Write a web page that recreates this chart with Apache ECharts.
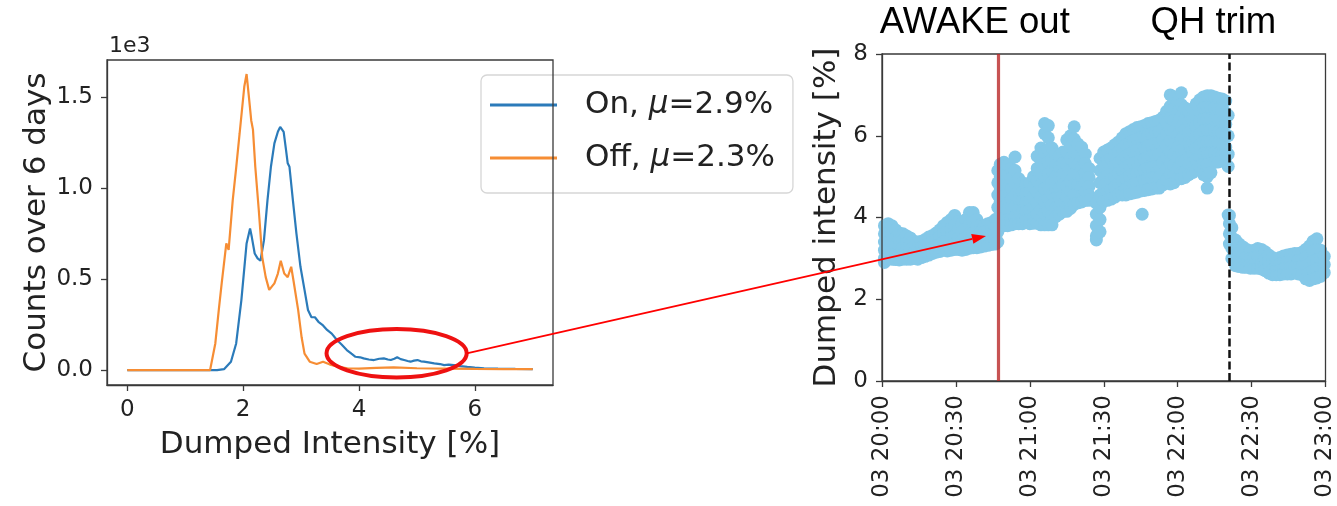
<!DOCTYPE html>
<html>
<head>
<meta charset="utf-8">
<script src="https://cdn.jsdelivr.net/npm/echarts@6/dist/echarts.min.js"></script>
<style>
  html, body { margin: 0; padding: 0; background: #fff; }
  #chart { width: 1337px; height: 506px; }
</style>
</head>
<body>
<div id="chart"></div>
<script>
// ---- Histogram of dumped intensity (counts over 6 days) ----
const onX = [0, 1.55, 1.67, 1.79, 1.88, 1.97, 2.06, 2.12, 2.15, 2.20, 2.25, 2.30, 2.36, 2.42, 2.48, 2.54,
  2.60, 2.64, 2.70, 2.74, 2.77, 2.80, 2.86, 2.92, 2.99, 3.06, 3.12, 3.18, 3.24, 3.30, 3.38, 3.45, 3.53,
  3.62, 3.70, 3.79, 3.87, 3.94, 4.02, 4.08, 4.17, 4.26, 4.35, 4.43, 4.50, 4.55, 4.61, 4.66, 4.72, 4.78,
  4.84, 4.89, 4.95, 5.01, 5.07, 5.12, 5.20, 5.30, 5.40, 5.47, 5.55, 5.64, 5.75, 5.87, 6.0, 6.16, 6.4, 6.7, 7.0];
const onCounts = [0, 0, 5, 46, 146, 384, 695, 777, 730, 640, 613, 600, 713, 930, 1116, 1244,
  1308, 1335, 1308, 1210, 1135, 1116, 930, 750, 567, 440, 330, 290, 290, 265, 245, 220, 200,
  165, 140, 110, 90, 73, 70, 64, 58, 55, 62, 64, 58, 55, 62, 70, 60, 55,
  50, 46, 52, 55, 48, 46, 42, 37, 33, 27, 30, 27, 22, 18, 14, 10, 8, 6, 5];
const offX = [0, 1.43, 1.52, 1.58, 1.63, 1.71, 1.75, 1.82, 1.88, 1.94, 2.02, 2.06, 2.10, 2.14, 2.17, 2.21,
  2.27, 2.33, 2.39, 2.45, 2.48, 2.54, 2.60, 2.65, 2.71, 2.77, 2.83, 2.87, 2.95, 3.01, 3.06, 3.15, 3.27,
  3.38, 3.5, 3.65, 3.8, 4.0, 4.3, 4.6, 5.0, 5.5, 6.0, 6.5, 7.0];
const offCounts = [0, 0, 146, 330, 476, 695, 660, 930, 1110, 1300, 1555, 1625, 1500, 1370, 1320, 1116,
  880, 620, 510, 440, 430, 476, 530, 600, 530, 510, 567, 490, 330, 180, 90, 46, 33,
  46, 30, 18, 10, 8, 12, 15, 10, 8, 6, 5, 5];
const seriesNames = ['On, μ=2.9%', 'Off, μ=2.3%'];
const histTicks = [0, 2, 4, 6];
const countTicks = [0, 500, 1000, 1500];

// ---- Dumped intensity vs time: each row is [minutes after 20:00, readings...] ----
const scatterRows = [
  [1, 3.8, 3.6, 3.4, 3.2, 3.0, 2.9],
  [2.5, 3.85, 3.62, 3.4, 3.2, 3.0],
  [4, 3.8, 3.58, 3.36, 3.16, 2.98],
  [5.5, 3.7, 3.5, 3.3, 3.12, 2.97],
  [7, 3.62, 3.45, 3.28, 3.1, 2.96],
  [8.5, 3.6, 3.44, 3.27, 3.1, 2.98],
  [10, 3.55, 3.38, 3.22, 3.07, 2.98],
  [11.5, 3.5, 3.35, 3.2, 3.05, 2.98],
  [13, 3.42, 3.28, 3.14, 3.0],
  [14.5, 3.4, 3.25, 3.1, 2.98],
  [16, 3.42, 3.28, 3.14, 3.02],
  [17.5, 3.46, 3.3, 3.16, 3.05],
  [19, 3.52, 3.36, 3.21, 3.08],
  [20.5, 3.56, 3.4, 3.25, 3.12],
  [22, 3.62, 3.45, 3.3, 3.15],
  [23.5, 3.7, 3.52, 3.34, 3.17],
  [25, 3.8, 3.6, 3.4, 3.2],
  [26.5, 3.88, 3.66, 3.45, 3.25, 3.18],
  [28, 3.95, 3.72, 3.5, 3.3, 3.2],
  [29.5, 4.05, 3.8, 3.55, 3.35, 3.22],
  [31, 3.9, 3.7, 3.5, 3.32, 3.22],
  [32.5, 3.85, 3.65, 3.45, 3.3, 3.2],
  [34, 3.95, 3.72, 3.5, 3.35, 3.22],
  [35.5, 4.12, 3.85, 3.6, 3.4, 3.25],
  [37, 4.12, 3.88, 3.62, 3.42, 3.26],
  [38.5, 3.95, 3.75, 3.55, 3.38, 3.26],
  [40, 3.82, 3.65, 3.5, 3.36, 3.28],
  [41.5, 3.8, 3.64, 3.5, 3.38, 3.3],
  [43, 3.85, 3.68, 3.52, 3.4, 3.32],
  [44.5, 3.88, 3.7, 3.55, 3.42, 3.34],
  [46, 3.95, 3.75, 3.58, 3.44, 3.35],
  [47, 5.15, 4.85, 4.55, 4.25, 3.95, 3.65, 3.4],
  [48, 5.3, 5.0, 4.7, 4.4, 4.1, 3.85],
  [49.5, 5.35, 5.08, 4.8, 4.52, 4.25, 3.98, 3.8],
  [51, 5.28, 5.0, 4.72, 4.45, 4.2, 3.95, 3.8],
  [52.5, 5.2, 4.95, 4.7, 4.45, 4.2, 3.98, 3.82],
  [54, 5.48, 5.15, 4.85, 4.55, 4.28, 4.02, 3.85],
  [55.5, 4.95, 4.7, 4.45, 4.2, 3.98, 3.85],
  [57, 4.85, 4.62, 4.4, 4.17, 3.95, 3.85],
  [58.5, 4.8, 4.58, 4.36, 4.14, 3.93],
  [60, 4.85, 4.62, 4.4, 4.17, 3.95, 3.85],
  [61.5, 5.0, 4.75, 4.5, 4.25, 4.0, 3.86],
  [63, 5.5, 5.2, 4.9, 4.62, 4.35, 4.08, 3.86],
  [64.5, 5.7, 5.4, 5.1, 4.8, 4.5, 4.2, 3.95, 3.82],
  [66, 6.3, 6.05, 5.6, 5.3, 5.0, 4.7, 4.4, 4.1, 3.82],
  [67.5, 6.25, 5.95, 5.65, 5.35, 5.05, 4.75, 4.45, 4.15, 3.82],
  [69, 5.7, 5.42, 5.14, 4.86, 4.58, 4.3, 4.05, 3.82],
  [70.5, 5.55, 5.28, 5.0, 4.74, 4.48, 4.24, 4.02],
  [72, 5.5, 5.24, 4.98, 4.72, 4.48, 4.25, 4.08],
  [73.5, 5.6, 5.32, 5.05, 4.8, 4.55, 4.32, 4.15],
  [75, 5.9, 5.6, 5.3, 5.02, 4.76, 4.5, 4.25, 4.15],
  [76.5, 6.0, 5.72, 5.44, 5.16, 4.9, 4.64, 4.4, 4.22],
  [78, 6.22, 5.92, 5.62, 5.34, 5.06, 4.8, 4.55, 4.32],
  [79.5, 5.8, 5.55, 5.3, 5.05, 4.8, 4.56, 4.36],
  [81, 5.72, 5.48, 5.24, 5.0, 4.76, 4.54, 4.38],
  [82.5, 5.55, 5.32, 5.08, 4.85, 4.62, 4.42],
  [84, 5.2, 4.98, 4.76, 4.55, 4.42],
  [87, 4.35, 4.08, 3.8, 3.55, 3.45],
  [88.5, 5.45, 5.15, 4.85, 4.55, 4.25, 3.95, 3.65],
  [90, 5.6, 5.32, 5.04, 4.78, 4.55, 4.4],
  [91.5, 5.65, 5.38, 5.1, 4.85, 4.62, 4.42],
  [93, 5.7, 5.44, 5.18, 4.92, 4.68, 4.45],
  [94.5, 5.78, 5.52, 5.26, 5.0, 4.75, 4.5],
  [96, 5.85, 5.6, 5.34, 5.08, 4.82, 4.56],
  [97.5, 5.95, 5.68, 5.42, 5.16, 4.9, 4.62, 4.55],
  [99, 6.05, 5.78, 5.5, 5.22, 4.96, 4.7, 4.55],
  [100.5, 6.1, 5.82, 5.55, 5.28, 5.02, 4.76, 4.58],
  [102, 6.15, 5.88, 5.6, 5.33, 5.06, 4.8, 4.6],
  [103.5, 6.2, 5.92, 5.64, 5.36, 5.1, 4.84, 4.62],
  [105, 6.22, 5.95, 5.68, 5.4, 5.13, 4.87, 4.65],
  [105.6, 4.08],
  [106.5, 6.25, 5.98, 5.7, 5.43, 5.16, 4.9, 4.66],
  [108, 6.3, 6.02, 5.75, 5.48, 5.2, 4.94, 4.68],
  [109.5, 6.32, 6.05, 5.78, 5.5, 5.22, 4.96, 4.7],
  [111, 6.35, 6.08, 5.8, 5.52, 5.25, 4.98, 4.72],
  [112.5, 6.38, 6.1, 5.82, 5.54, 5.26, 4.98, 4.72],
  [114, 6.45, 6.18, 5.9, 5.62, 5.34, 5.06, 4.8],
  [115.5, 6.6, 6.32, 6.04, 5.76, 5.48, 5.2, 4.92],
  [117, 7.0, 6.72, 6.44, 6.16, 5.88, 5.6, 5.32, 5.05, 4.82],
  [118.5, 6.95, 6.66, 6.38, 6.1, 5.82, 5.55, 5.28, 5.0, 4.85],
  [120, 6.82, 6.55, 6.28, 6.0, 5.72, 5.45, 5.18, 4.95],
  [121.5, 7.05, 6.76, 6.48, 6.2, 5.92, 5.64, 5.36, 5.1, 4.95],
  [123, 6.68, 6.42, 6.16, 5.9, 5.64, 5.38, 5.12, 4.98],
  [124.5, 6.6, 6.34, 6.08, 5.82, 5.56, 5.3, 5.05],
  [126, 6.65, 6.38, 6.12, 5.86, 5.6, 5.34, 5.1],
  [127.5, 6.78, 6.5, 6.22, 5.95, 5.68, 5.42, 5.16],
  [129, 6.88, 6.6, 6.32, 6.04, 5.76, 5.5, 5.25],
  [130.5, 6.95, 6.68, 6.4, 6.12, 5.84, 5.56, 5.3, 5.05],
  [132, 6.98, 6.7, 6.42, 6.14, 5.86, 5.58, 5.3, 5.0, 4.72],
  [133.5, 6.98, 6.7, 6.42, 6.14, 5.86, 5.58, 5.32, 5.1],
  [135, 6.95, 6.68, 6.4, 6.12, 5.84, 5.58, 5.35],
  [136.5, 6.92, 6.65, 6.38, 6.1, 5.82, 5.56, 5.36],
  [138, 6.9, 6.62, 6.34, 6.06, 5.8, 5.54, 5.38],
  [139.5, 6.85, 6.56, 6.28, 6.0, 5.72, 5.46],
  [140.5, 6.5, 6.0, 5.55, 5.25, 4.06],
  [141, 4.05, 3.85, 3.6, 3.35],
  [142, 3.75, 3.5, 3.25, 3.0],
  [143.5, 3.45, 3.22, 3.0, 2.82],
  [145, 3.35, 3.14, 2.95, 2.8],
  [146.5, 3.28, 3.08, 2.9, 2.78],
  [148, 3.22, 3.04, 2.88, 2.78],
  [149.5, 3.18, 3.0, 2.85, 2.76],
  [151, 3.2, 3.02, 2.86, 2.76],
  [152.5, 3.24, 3.05, 2.88, 2.76],
  [154, 3.22, 3.04, 2.86, 2.74],
  [155.5, 3.16, 2.98, 2.82, 2.7],
  [157, 3.08, 2.92, 2.76, 2.64],
  [158.5, 3.02, 2.86, 2.72, 2.6],
  [160, 2.98, 2.84, 2.7, 2.6],
  [161.5, 3.02, 2.86, 2.72, 2.6],
  [163, 3.06, 2.9, 2.74, 2.62],
  [164.5, 3.08, 2.92, 2.76, 2.62],
  [166, 3.1, 2.94, 2.78, 2.62],
  [167.5, 3.12, 2.96, 2.8, 2.64],
  [169, 3.12, 2.96, 2.8, 2.62],
  [170.5, 3.15, 2.98, 2.8, 2.6],
  [172, 3.22, 3.02, 2.82, 2.6, 2.5],
  [173.5, 3.3, 3.08, 2.86, 2.64, 2.46],
  [175, 3.42, 3.18, 2.94, 2.7, 2.5],
  [176.5, 3.48, 3.22, 2.96, 2.72, 2.52],
  [178, 3.2, 2.98, 2.76, 2.56],
  [179.5, 3.05, 2.85, 2.65]
];
const timeDay = '03';
const awakeOutMinute = 47;   // 20:47
const qhTrimMinute = 141;    // 22:21
const eventLabels = ['AWAKE out', 'QH trim'];

// ---- build ----
const FONT = 'DejaVu Sans';
const INK = '#222';
const SPINE = '#3a3a3a';

const toPairs = (xs, ys) => xs.map((x, i) => [x, ys[i]]);
const scatterData = [];
scatterRows.forEach(row => {
  for (let i = 1; i < row.length; i++) scatterData.push([row[0], row[i]]);
});
const clock = m => {
  const h = 20 + Math.floor(m / 60), mm = m % 60;
  return timeDay + ' ' + h + ':' + (mm < 10 ? '0' : '') + mm;
};
const richName = name => {
  const [a, b] = name.split('μ');
  return '{t|' + a + '}{m|μ}{t|' + b + '}';
};

const axisCommon = {
  axisLine: { show: true, onZero: false, lineStyle: { color: SPINE, width: 1.3 } },
  axisTick: { show: true, inside: false, length: 6, lineStyle: { color: SPINE, width: 1.3 } },
  axisLabel: { color: INK, fontFamily: FONT, fontSize: 23, margin: 14 },
  splitLine: { show: false },
  nameTextStyle: { color: INK, fontFamily: FONT, fontSize: 31 }
};

const chart = echarts.init(document.getElementById('chart'), null, { renderer: 'canvas' });
chart.setOption({
  animation: false,
  backgroundColor: '#fff',
  grid: [
    { left: 107, top: 60, width: 446, height: 325, show: true, borderColor: SPINE, borderWidth: 1.3, z: 5, backgroundColor: 'transparent' },
    { left: 882, top: 54, width: 447, height: 327, show: true, borderColor: SPINE, borderWidth: 1.3, z: 5, backgroundColor: 'transparent' }
  ],
  legend: {
    left: 481, top: 75, orient: 'vertical',
    padding: [12, 18, 17, 9],
    itemGap: 17, itemWidth: 67, itemHeight: 3, icon: 'rect',
    backgroundColor: 'rgba(255,255,255,0.85)',
    borderColor: '#d6d6d6', borderWidth: 1.3, borderRadius: 6,
    selectedMode: false, z: 3,
    data: seriesNames,
    formatter: richName,
    textStyle: {
      color: INK, fontFamily: FONT, fontSize: 31, lineHeight: 36, padding: [0, 0, 0, 23],
      rich: {
        t: { fontFamily: FONT, fontSize: 31, color: INK },
        m: { fontFamily: FONT, fontSize: 31, fontStyle: 'italic', color: INK }
      }
    }
  },
  xAxis: [
    Object.assign({}, axisCommon, {
      type: 'value', gridIndex: 0, min: -0.35, max: 7.35,
      name: 'Dumped Intensity [%]', nameLocation: 'middle', nameGap: 44,
      axisTick: Object.assign({}, axisCommon.axisTick, { customValues: histTicks }),
      axisLabel: Object.assign({}, axisCommon.axisLabel, { customValues: histTicks })
    }),
    Object.assign({}, axisCommon, {
      type: 'value', gridIndex: 1, min: 0, max: 180, interval: 30,
      axisLabel: Object.assign({}, axisCommon.axisLabel, { rotate: 90, formatter: v => clock(v) })
    })
  ],
  yAxis: [
    Object.assign({}, axisCommon, {
      type: 'value', gridIndex: 0, min: -82, max: 1702,
      name: 'Counts over 6 days', nameLocation: 'middle', nameGap: 52,
      axisTick: Object.assign({}, axisCommon.axisTick, { customValues: countTicks }),
      axisLabel: Object.assign({}, axisCommon.axisLabel, { customValues: countTicks, formatter: v => (v / 1000).toFixed(1) })
    }),
    Object.assign({}, axisCommon, {
      type: 'value', gridIndex: 1, min: 0, max: 8, interval: 2,
      name: 'Dumped intensity [%]', nameLocation: 'middle', nameGap: 40
    })
  ],
  series: [
    {
      name: seriesNames[0], type: 'line', xAxisIndex: 0, yAxisIndex: 0,
      data: toPairs(onX, onCounts), symbol: 'none', showSymbol: false,
      color: '#2b7bba', lineStyle: { width: 2.2, color: '#2b7bba' }, z: 2
    },
    {
      name: seriesNames[1], type: 'line', xAxisIndex: 0, yAxisIndex: 0,
      data: toPairs(offX, offCounts), symbol: 'none', showSymbol: false,
      color: '#f68d34', lineStyle: { width: 2.2, color: '#f68d34' }, z: 3
    },
    {
      name: 'Dumped intensity', type: 'scatter', xAxisIndex: 1, yAxisIndex: 1,
      data: scatterData, symbol: 'circle', symbolSize: 13,
      itemStyle: { color: '#84c8e8', opacity: 1 }, z: 2,
      markLine: {
        silent: true, symbol: 'none', animation: false,
        label: { show: false },
        data: [
          { xAxis: awakeOutMinute, lineStyle: { color: 'rgba(185,40,40,0.8)', width: 3.2, type: 'solid' } },
          { xAxis: qhTrimMinute, lineStyle: { color: '#111', width: 2.5, type: [8, 3.5] } }
        ]
      }
    }
  ]
});

// ---- annotations anchored to the axes ----
const px = (grid, p) => chart.convertToPixel({ gridIndex: grid }, p);
const ringC = px(0, [4.65, 92]);
const ringE = px(0, [4.65 + 1.21, 92 - 133]);
const rx = ringE[0] - ringC[0], ry = ringE[1] - ringC[1];
const arrowFrom = [ringC[0] + rx, ringC[1]];
const arrowTo = px(1, [42.2, 3.55]);
const ang = Math.atan2(arrowTo[1] - arrowFrom[1], arrowTo[0] - arrowFrom[0]);
const headLen = 14, headHalf = 5;
const back = [arrowTo[0] - headLen * Math.cos(ang), arrowTo[1] - headLen * Math.sin(ang)];
const nx = -Math.sin(ang), ny = Math.cos(ang);
const awakeX = px(1, [awakeOutMinute, 8])[0];
const qhX = px(1, [qhTrimMinute, 8])[0];
const topLeft = px(0, [-0.35, 1702]);

chart.setOption({
  graphic: [
    { type: 'ellipse', z: 20, shape: { cx: ringC[0], cy: ringC[1], rx: rx, ry: ry },
      style: { fill: 'none', stroke: '#ee1111', lineWidth: 4 } },
    { type: 'line', z: 20, shape: { x1: arrowFrom[0], y1: arrowFrom[1], x2: back[0], y2: back[1] },
      style: { stroke: '#ff0000', lineWidth: 1.8 } },
    { type: 'polygon', z: 20, shape: { points: [arrowTo,
        [back[0] + nx * headHalf, back[1] + ny * headHalf],
        [back[0] - nx * headHalf, back[1] - ny * headHalf]] },
      style: { fill: '#ff0000' } },
    { type: 'text', z: 20, x: awakeX - 23, y: 23,
      style: { text: eventLabels[0], fill: '#000', font: '36.5px "Liberation Sans"', align: 'center', verticalAlign: 'middle' } },
    { type: 'text', z: 20, x: qhX - 16, y: 23,
      style: { text: eventLabels[1], fill: '#000', font: '36.5px "Liberation Sans"', align: 'center', verticalAlign: 'middle' } },
    { type: 'text', z: 20, x: topLeft[0] + 2, y: topLeft[1] - 3,
      style: { text: '1e3', fill: INK, font: '22px "DejaVu Sans"', align: 'left', verticalAlign: 'bottom' } }
  ]
});
</script>
</body>
</html>
